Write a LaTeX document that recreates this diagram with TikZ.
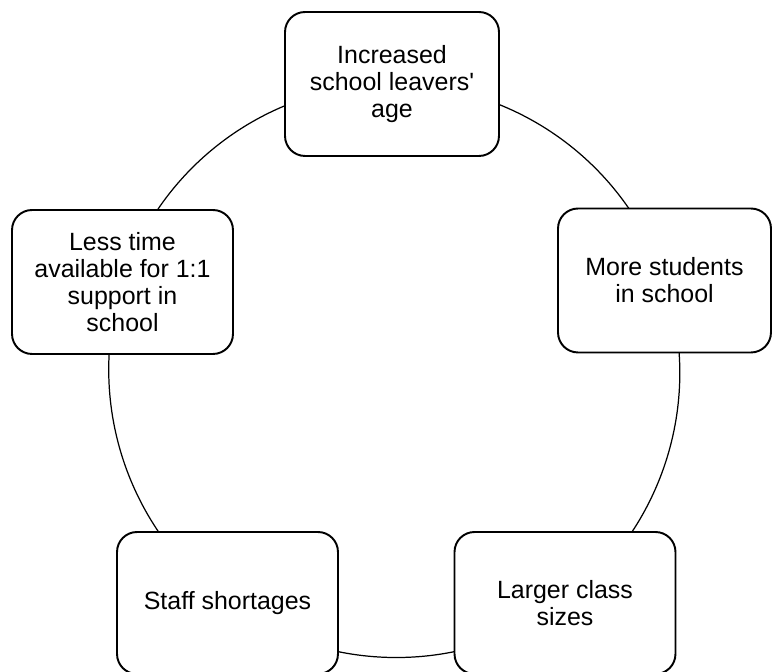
\documentclass[tikz,border=0pt]{standalone}
\usepackage{fontspec}
\setmainfont{Liberation Sans}
\usetikzlibrary{backgrounds}
\tikzset{
  cause/.style={draw, line width=1.1pt, rounded corners=0.4cm, fill=white,
    minimum width=4.42cm, minimum height=2.88cm, align=center,
    font=\fontsize{14.2}{15.4}\selectfont},
  ring/.style={line width=0.7pt, bend left=36, looseness=0.94}
}
\begin{document}
\begin{tikzpicture}[x=0.02cm,y=0.02cm]
\useasboundingbox (0,0) rectangle (772,672);
\node[cause, minimum width=4.28cm] (age) at (392,588) {Increased\\school leavers\textquotesingle\\age};
\node[cause, minimum width=4.26cm] (students) at (664.5,391.5) {More students\\in school};
\node[cause, minimum height=2.84cm] (classes) at (565,69) {Larger class\\sizes};
\node[cause, minimum height=2.84cm] (staff) at (227.5,69) {Staff shortages};
\node[cause] (time) at (122.5,390) {Less time\\available for 1:1\\support in\\school};
\begin{scope}[on background layer]
\draw[ring] (age.center) to (students.center);
\draw[ring] (students.center) to (classes.center);
\draw[ring] (classes.center) to (staff.center);
\draw[ring] (staff.center) to (time.center);
\draw[ring] (time.center) to (age.center);
\end{scope}
\end{tikzpicture}
\end{document}
